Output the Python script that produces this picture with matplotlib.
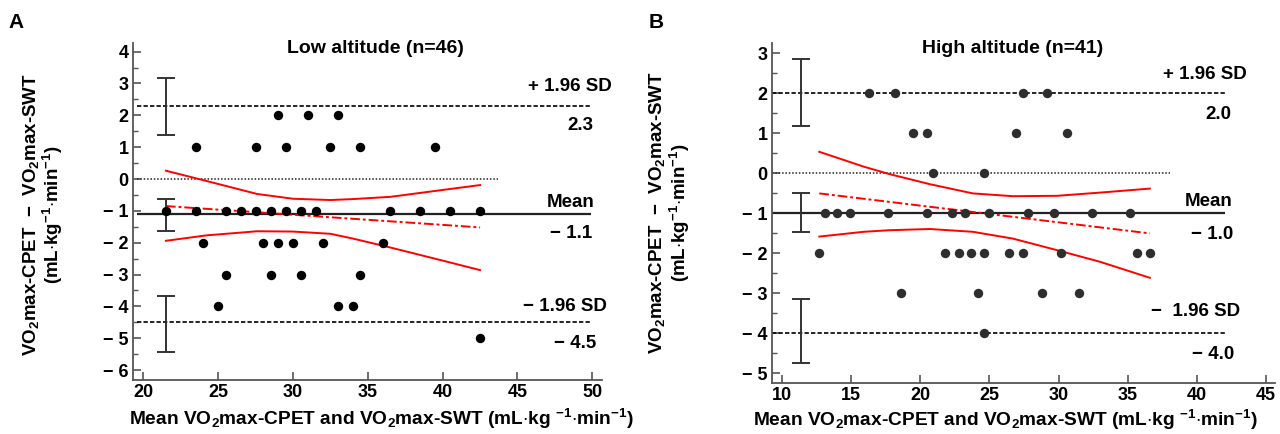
import matplotlib
matplotlib.use("Agg")
import matplotlib.pyplot as plt
import numpy as np

plt.rcParams['font.family'] = ['Liberation Sans', 'DejaVu Sans']
plt.rcParams['font.weight'] = 'bold'
plt.rcParams['mathtext.fontset'] = 'custom'
plt.rcParams['mathtext.rm'] = 'Liberation Sans:bold'
plt.rcParams['mathtext.it'] = 'Liberation Sans:bold'
plt.rcParams['mathtext.bf'] = 'Liberation Sans:bold'

# ---------------- Panel A data (low altitude) ----------------
a_x = [29.0, 31.0, 33.0,
       23.5, 27.5, 29.5, 32.5, 34.5, 39.5,
       21.5, 23.5, 25.5, 26.5, 27.5, 28.5, 29.5, 30.5, 31.5, 36.5, 38.5, 40.5, 42.5,
       24.0, 28.0, 29.0, 30.0, 32.0, 36.0,
       25.5, 28.5, 30.5, 34.5,
       25.0, 33.0, 34.0,
       42.5]
a_y = [2, 2, 2,
       1, 1, 1, 1, 1, 1,
       -1, -1, -1, -1, -1, -1, -1, -1, -1, -1, -1, -1, -1,
       -2, -2, -2, -2, -2, -2,
       -3, -3, -3, -3,
       -4, -4, -4,
       -5]
a_upper, a_mean, a_lower = 2.3, -1.1, -4.5
a_ci_x = 21.5
a_ci_upper = (1.38, 3.18)
a_ci_mean = (-1.64, -0.63)
a_ci_lower = (-5.44, -3.66)
a_reg_x = [21.5, 42.5]
a_reg_y = [-0.85, -1.52]
a_band_x = [21.5, 24.2, 27.6, 30.0, 32.5, 34.0, 36.5, 39.9, 42.5]
a_band_hi = [0.26, -0.06, -0.47, -0.62, -0.66, -0.63, -0.56, -0.35, -0.19]
a_band_lo = [-1.94, -1.77, -1.64, -1.65, -1.72, -1.87, -2.15, -2.55, -2.86]

# ---------------- Panel B data (high altitude) ----------------
b_x = [16.3, 18.2, 27.4, 29.2,
       19.5, 20.5, 26.9, 30.6,
       20.9, 24.6,
       13.1, 14.0, 14.9, 17.7, 20.5, 22.3, 23.2, 25.0, 27.8, 29.7, 32.4, 35.2,
       12.7, 21.8, 22.8, 23.7, 24.6, 26.4, 27.4, 30.2, 35.7, 36.6,
       18.6, 24.2, 28.8, 31.5,
       24.6]
b_y = [2, 2, 2, 2,
       1, 1, 1, 1,
       0, 0,
       -1, -1, -1, -1, -1, -1, -1, -1, -1, -1, -1, -1,
       -2, -2, -2, -2, -2, -2, -2, -2, -2, -2,
       -3, -3, -3, -3,
       -4]
b_upper, b_mean, b_lower = 2.0, -1.0, -4.0
b_ci_x = 11.4
b_ci_upper = (1.19, 2.85)
b_ci_mean = (-1.46, -0.50)
b_ci_lower = (-4.74, -3.14)
b_reg_x = [12.7, 36.6]
b_reg_y = [-0.50, -1.50]
b_band_x = [12.7, 15.9, 17.8, 20.7, 23.8, 26.7, 29.9, 33.0, 36.6]
b_band_hi = [0.54, 0.17, -0.02, -0.27, -0.50, -0.57, -0.56, -0.48, -0.38]
b_band_lo = [-1.58, -1.46, -1.42, -1.39, -1.46, -1.63, -1.92, -2.21, -2.61]

xlabel = r'Mean VO$_2$max-CPET and VO$_2$max-SWT (mL$\cdot$kg $^{-1}$$\cdot$min$^{-1}$)'
ylabel = 'VO$_2$max-CPET  \u2212  VO$_2$max-SWT\n(mL$\\cdot$kg$^{-1}$$\\cdot$min$^{-1}$)'

W, H = 1280, 434
fig = plt.figure(figsize=(W / 100, H / 100), dpi=100)

def px_axes(l, r, t, b):
    return fig.add_axes([l / W, 1 - b / H, (r - l) / W, (b - t) / H])

axA = px_axes(133, 602, 43, 380)
axB = px_axes(772, 1275, 43, 383)

spine_col = '#555555'

def style(ax, xlim, ylim, xt, yt):
    ax.set_xlim(*xlim)
    ax.set_ylim(*ylim)
    for s in ['top', 'right']:
        ax.spines[s].set_visible(False)
    for s in ['left', 'bottom']:
        ax.spines[s].set_color(spine_col)
        ax.spines[s].set_linewidth(1.3)
    ax.set_xticks(xt)
    ax.set_xticklabels([str(v) for v in xt], fontsize=13, fontweight='bold')
    ax.set_yticks(yt)
    ax.set_yticklabels([('\u2212 ' + str(-v)) if v < 0 else str(v) for v in yt],
                       fontsize=13, fontweight='bold')
    ax.set_yticks(np.arange(yt[0], yt[-1], 0.5), minor=True)
    ax.tick_params(axis='both', which='major', direction='in', length=6, width=1.2,
                   color=spine_col, pad=3)
    ax.tick_params(axis='y', which='minor', direction='in', length=3.5, width=1.0,
                   color=spine_col)

def draw(ax, xs, ys, upper, mean, lower, ci_x, ci_u, ci_m, ci_l,
         reg_x, reg_y, band_x, band_hi, band_lo, x0, x1, xzero, mcolor,
         labels, label_pos):
    ax.hlines(upper, x0, x1, colors='k', linestyles=(0, (2.6, 1.3)), lw=1.2)
    ax.hlines(lower, x0, x1, colors='k', linestyles=(0, (2.6, 1.3)), lw=1.2)
    ax.hlines(mean, x0, x1, colors='#222222', lw=1.6)
    ax.hlines(0, x0, xzero, colors='#222222', linestyles=(0, (1, 1.2)), lw=1.1)
    ax.plot(band_x, band_hi, color='red', lw=1.4)
    ax.plot(band_x, band_lo, color='red', lw=1.4)
    ax.plot(reg_x, reg_y, color='red', lw=1.4, linestyle=(0, (5, 1.5, 1.5, 1.5)))
    for lo, hi in (ci_u, ci_m, ci_l):
        ax.errorbar([ci_x], [(lo + hi) / 2], yerr=[[(hi - lo) / 2], [(hi - lo) / 2]],
                    fmt='none', ecolor='#333333', elinewidth=1.4, capsize=6.5,
                    capthick=1.4)
    ax.scatter(xs, ys, s=46, color=mcolor, zorder=5, linewidths=0)
    for (tx, ty), s in zip(label_pos, labels):
        ax.text(tx, ty, s, ha='right', va='center', fontsize=13.5, fontweight='bold')

style(axA, (19.3, 50.65), (-6.31, 4.27), [20, 25, 30, 35, 40, 45, 50],
      [-6, -5, -4, -3, -2, -1, 0, 1, 2, 3, 4])
draw(axA, a_x, a_y, a_upper, a_mean, a_lower, a_ci_x, a_ci_upper, a_ci_mean, a_ci_lower,
     a_reg_x, a_reg_y, a_band_x, a_band_hi, a_band_lo, 19.6, 49.9, 43.7, 'black',
     ['+ 1.96 SD', '2.3', 'Mean', '\u2212 1.1', '\u2212 1.96 SD', '\u2212 4.5'],
     [(51.3, 2.9), (50.05, 1.67), (50.15, -0.75), (50.0, -1.71), (51.0, -3.99),
      (50.25, -5.15)])

style(axB, (9.28, 45.65), (-5.24, 3.26), [10, 15, 20, 25, 30, 35, 40, 45],
      [-5, -4, -3, -2, -1, 0, 1, 2, 3])
draw(axB, b_x, b_y, b_upper, b_mean, b_lower, b_ci_x, b_ci_upper, b_ci_mean, b_ci_lower,
     b_reg_x, b_reg_y, b_band_x, b_band_hi, b_band_lo, 9.28, 42.0, 38.05, '#2e2e2e',
     ['+ 1.96 SD', '2.0', 'Mean', '\u2212 1.0', '\u2212  1.96 SD', '\u2212 4.0'],
     [(43.6, 2.48), (42.5, 1.48), (42.6, -0.71), (42.6, -1.52), (43.15, -3.46),
      (42.7, -4.52)])

axA.text(0.516, 0.985, 'Low altitude (n=46)', transform=axA.transAxes, ha='center',
         va='center', fontsize=14, fontweight='bold')
axB.text(0.478, 0.985, 'High altitude (n=41)', transform=axB.transAxes, ha='center',
         va='center', fontsize=14, fontweight='bold')

for ax, lx, ly in ((axA, -0.145, 0.49), (axB, -0.16, 0.5)):
    ax.set_ylabel(ylabel, fontsize=13.5, fontweight='bold', linespacing=1.0)
    ax.yaxis.set_label_coords(lx, ly)
    ax.set_xlabel(xlabel, fontsize=13.8, fontweight='bold')
axA.xaxis.set_label_coords(0.53, -0.08)
axB.xaxis.set_label_coords(0.464, -0.072)

fig.text(16 / W, 1 - 22 / H, 'A', fontsize=15, fontweight='bold', ha='center', va='center')
fig.text(656 / W, 1 - 22 / H, 'B', fontsize=15, fontweight='bold', ha='center', va='center')

fig.savefig('out.png', dpi=100)
